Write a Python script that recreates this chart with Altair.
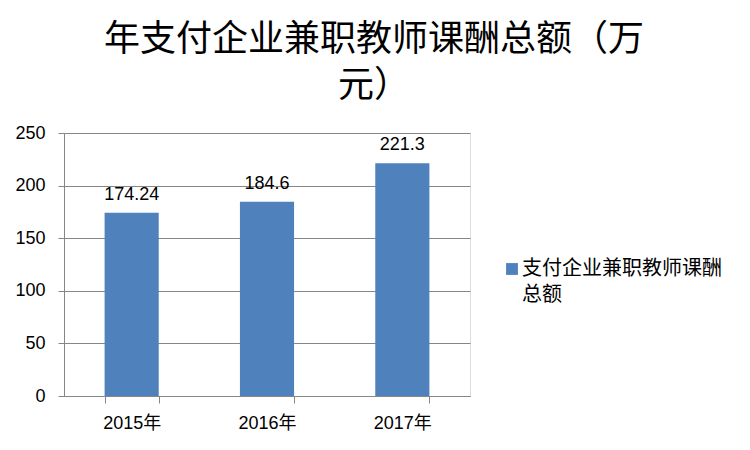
import altair as alt
import pandas as pd

years = ["2015年", "2016年", "2017年"]
values = [174.24, 184.6, 221.3]
value_labels = ["174.24", "184.6", "221.3"]
series_name = "支付企业兼职教师课酬总额"
y_ticks = [0, 50, 100, 150, 200, 250]
title_lines = ["年支付企业兼职教师课酬总额（万", "元）"]

df = pd.DataFrame({
    "year": years,
    "value": values,
    "label": value_labels,
    "series": [series_name] * len(years),
})

FONT = "Liberation Sans, Noto Sans CJK SC"
CJK = "Noto Sans CJK SC"
GRID = "#868686"
BAR = "#4F81BD"

x_enc = alt.X(
    "year:N", sort=years, title=None,
    scale=alt.Scale(paddingInner=0.6, paddingOuter=0.3),
    axis=alt.Axis(
        labelAngle=0, labelFont=FONT, labelFontSize=18, labelColor="#000000",
        labelPadding=11, tickSize=7, tickColor=GRID, tickBand="extent",
        domainColor=GRID, grid=False,
    ),
)

bars = alt.Chart(df).mark_bar().encode(
    x=x_enc,
    y=alt.Y(
        "value:Q", title=None,
        scale=alt.Scale(domain=[0, 250], nice=False),
        axis=alt.Axis(
            values=y_ticks, labelFont=FONT, labelFontSize=18, labelColor="#000000",
            labelPadding=13, tickSize=6, tickColor=GRID, domainColor=GRID,
            grid=True, gridColor=GRID, gridWidth=1,
        ),
    ),
    color=alt.Color(
        "series:N", scale=alt.Scale(range=[BAR]),
        legend=alt.Legend(
            title=None, orient="none", legendX=436, legendY=126,
            symbolType="square", symbolSize=140, symbolStrokeWidth=0,
            symbolOffset=2,
            labelFont=CJK, labelFontSize=20, labelColor="#000000", labelLimit=400,
            labelExpr="['支付企业兼职教师课酬', '总额']",
            labelBaseline="middle", labelOffset=0,
        ),
    ),
)

texts = alt.Chart(df).mark_text(
    baseline="alphabetic", dy=-13, font=FONT, fontSize=18, color="#000000"
).encode(
    x=alt.X("year:N", sort=years),
    y=alt.Y("value:Q"),
    text="label:N",
)

chart = alt.layer(bars, texts).properties(
    width=406,
    height=263,
    autosize=alt.AutoSizeParams(type="none"),
    padding={"left": 56, "top": 125, "right": 268, "bottom": 42},
    title=alt.TitleParams(
        text=title_lines, font=CJK, fontSize=36, fontWeight="normal",
        color="#000000", anchor="middle", frame="group", lineHeight=46,
        baseline="top", dx=107, offset=0, dy=-19,
    ),
).configure_view(stroke=None).configure(
    background="#ffffff",
    style={"guide-label": {"lineHeight": 26}},
)

chart.save("out.html", embed_options={"renderer": "svg", "actions": False})
